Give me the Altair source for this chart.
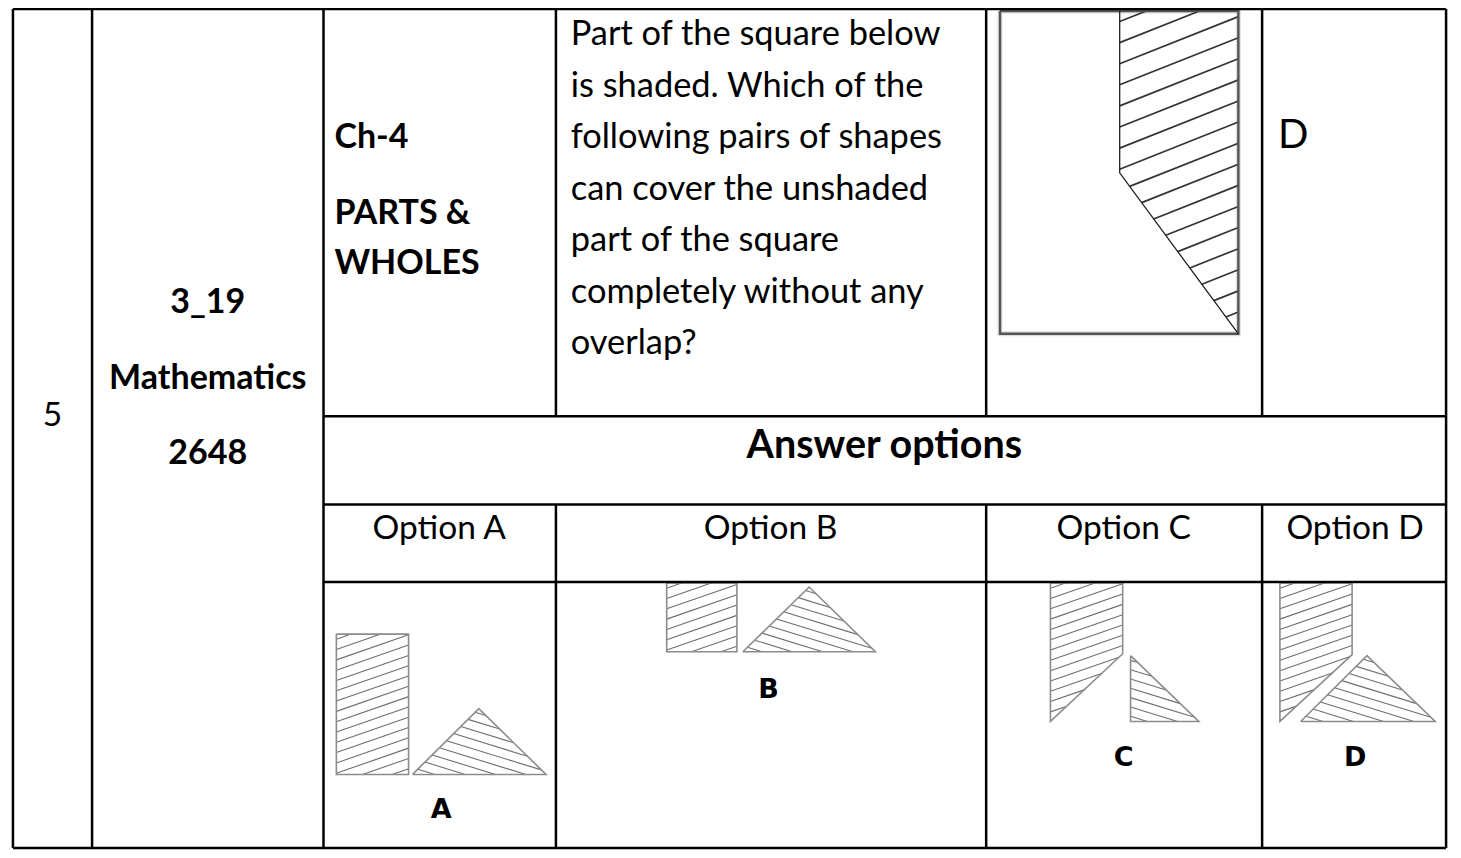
import altair as alt
import pandas as pd

# ---------------- reference frame (pixels of the 1461x858 picture) ----------------
FRAME_W, FRAME_H = 1461, 858

# table structure
col_edges = [5, 85, 319, 554, 989, 1268, 1454]
row_edges = [1, 416, 506, 585, 856]

# question text (regular, left aligned)
question_lines = [
    "Part of the square below",
    "is shaded. Which of the",
    "following pairs of shapes",
    "can cover the unshaded",
    "part of the square",
    "completely without any",
    "overlap?",
]
question_baselines = [38, 90.5, 143, 195.5, 248, 300.5, 353]

chapter_lines = ["Ch-4", "PARTS &", "WHOLES"]
chapter_baselines = [143, 220, 271]

id_lines = ["3_19", "Mathematics", "2648"]
id_baselines = [311, 388, 465]

option_titles = ["Option A", "Option B", "Option C", "Option D"]
option_centers = [436, 771, 1128, 1362]

fig_labels = ["A", "B", "C", "D"]
fig_label_x = [438, 769, 1128, 1362]
fig_label_y = [825, 703, 772, 772]

# shapes: vertex lists in the reference frame
shape_names = ["main_sq", "main_shade", "A_rect", "A_tri", "B_rect", "B_tri",
               "C_tall", "C_tri", "D_tall", "D_tri"]
shape_vertices = [
    [(1003, 3), (1244, 3), (1244, 332), (1003, 332)],
    [(1124, 3), (1244, 3), (1244, 332), (1124, 168)],
    [(332, 638), (405, 638), (405, 781), (332, 781)],
    [(409, 781), (476, 714), (544, 781)],
    [(666, 586), (737, 586), (737, 656), (666, 656)],
    [(743, 656), (810, 590), (877, 656)],
    [(1054, 586), (1127, 586), (1127, 658), (1054, 727)],
    [(1135, 660), (1135, 727), (1204, 727)],
    [(1286, 586), (1359, 586), (1359, 659), (1286, 727)],
    [(1307, 727), (1374, 660), (1443, 727)],
]
# hatch: (screen slope, vertical spacing) ; negative slope rises to the right
hatch_spec = {
    "main_shade": (-0.40, 21.5),
    "A_rect": (-0.35, 10.5), "A_tri": (0.31, 9.5),
    "B_rect": (-0.35, 10.5), "B_tri": (0.31, 9.5),
    "C_tall": (-0.35, 10.5), "C_tri": (0.31, 9.5),
    "D_tall": (-0.35, 10.5), "D_tri": (0.31, 9.5),
}

# ---------------- build tables ----------------
grid = []
for x in [col_edges[0], col_edges[1], col_edges[2], col_edges[-1]]:
    grid.append(dict(x=x, y=row_edges[0], x2=x, y2=row_edges[-1]))
for x in col_edges[3:6]:
    grid.append(dict(x=x, y=row_edges[0], x2=x, y2=row_edges[1]))
    grid.append(dict(x=x, y=row_edges[2], x2=x, y2=row_edges[-1]))
for y in [row_edges[0], row_edges[-1]]:
    grid.append(dict(x=col_edges[0], y=y, x2=col_edges[-1], y2=y))
for y in row_edges[1:4]:
    grid.append(dict(x=col_edges[2], y=y, x2=col_edges[-1], y2=y))
grid_df = pd.DataFrame(grid)

outline_rows = []
for name, verts in zip(shape_names, shape_vertices):
    if name == "main_shade":
        pts = [verts[0], verts[3], verts[2]]  # only inner boundary is drawn
    else:
        pts = verts + [verts[0]]
    for i, (px, py) in enumerate(pts):
        outline_rows.append(dict(sid=name, i=i, x=px, y=py,
                                 kind="main" if name.startswith("main") else "opt"))
outline_df = pd.DataFrame(outline_rows)


def hatch(verts, m, step):
    cs = [py - m * px for px, py in verts]
    lo, hi = min(cs), max(cs)
    segs = []
    c = lo + step * 0.5
    n = len(verts)
    while c < hi:
        pts = []
        for k in range(n):
            (x1, y1), (x2, y2) = verts[k], verts[(k + 1) % n]
            f1 = y1 - m * x1 - c
            f2 = y2 - m * x2 - c
            if f1 == f2:
                continue
            if f1 * f2 <= 0:
                t = f1 / (f1 - f2)
                pts.append((x1 + t * (x2 - x1), y1 + t * (y2 - y1)))
        if len(pts) >= 2:
            pts.sort()
            a, b = pts[0], pts[-1]
            if abs(b[0] - a[0]) > 0.5:
                segs.append((a, b))
        c += step
    return segs


hatch_rows = []
for name, verts in zip(shape_names, shape_vertices):
    if name not in hatch_spec:
        continue
    m, step = hatch_spec[name]
    for a, b in hatch(verts, m, step):
        hatch_rows.append(dict(sid=name, x=a[0], y=a[1], x2=b[0], y2=b[1],
                               kind="main" if name.startswith("main") else "opt"))
hatch_df = pd.DataFrame(hatch_rows)

reg_left = pd.DataFrame(dict(t=question_lines, x=[569] * len(question_lines),
                             y=question_baselines, s=[34.4] * len(question_lines)))
reg_left = pd.concat([reg_left, pd.DataFrame(dict(t=["D"], x=[1284], y=[142.5], s=[40]))])
reg_center = pd.DataFrame(dict(t=["5"] + option_titles, x=[45] + option_centers,
                               y=[426] + [541] * 4, s=[33.5] * 5))
bold_left = pd.DataFrame(dict(t=chapter_lines, x=[330] * 3, y=chapter_baselines, s=[34] * 3))
bold_center = pd.DataFrame(dict(t=id_lines + ["Answer options"], x=[202, 202, 202, 886],
                                y=id_baselines + [459], s=[34, 34, 34, 39.5]))
black_center = pd.DataFrame(dict(t=fig_labels, x=fig_label_x, y=fig_label_y, s=[27] * 4))

# ---------------- chart ----------------
xs = alt.Scale(domain=[0, FRAME_W], nice=False, zero=False)
ys = alt.Scale(domain=[0, FRAME_H], nice=False, zero=False, reverse=True)
X = alt.X("x:Q", scale=xs, axis=None)
Y = alt.Y("y:Q", scale=ys, axis=None)

grid_layer = alt.Chart(grid_df).mark_rule(color="black", strokeWidth=2.5).encode(
    x=X, y=Y, x2="x2:Q", y2="y2:Q")

opt_outline = alt.Chart(outline_df[outline_df["kind"] == "opt"]).mark_line(
    color="#8c8c8c", strokeWidth=1.6, strokeJoin="miter").encode(
    x=X, y=Y, detail="sid:N", order="i:Q")
main_sq_shadow = alt.Chart(outline_df[outline_df["sid"] == "main_sq"]).mark_line(
    color="#c8c8c8", strokeWidth=5, opacity=0.6).encode(x=X, y=Y, detail="sid:N", order="i:Q")
main_sq = alt.Chart(outline_df[outline_df["sid"] == "main_sq"]).mark_line(
    color="#555555", strokeWidth=2.4).encode(x=X, y=Y, detail="sid:N", order="i:Q")
main_shade = alt.Chart(outline_df[outline_df["sid"] == "main_shade"]).mark_line(
    color="#222222", strokeWidth=1.3).encode(x=X, y=Y, detail="sid:N", order="i:Q")

hatch_opt = alt.Chart(hatch_df[hatch_df["kind"] == "opt"]).mark_rule(
    color="#6e6e6e", strokeWidth=1.1).encode(x=X, y=Y, x2="x2:Q", y2="y2:Q")
hatch_main = alt.Chart(hatch_df[hatch_df["kind"] == "main"]).mark_rule(
    color="#333333", strokeWidth=1.7).encode(x=X, y=Y, x2="x2:Q", y2="y2:Q")


def text_layer(df, align, weight, font="Lato"):
    return alt.Chart(df).mark_text(align=align, baseline="alphabetic", font=font,
                                   fontWeight=weight, color="black").encode(
        x=X, y=Y, text="t:N", size=alt.Size("s:Q", scale=None, legend=None))


chart = alt.layer(
    main_sq_shadow, hatch_opt, hatch_main, opt_outline, main_sq, main_shade, grid_layer,
    text_layer(reg_left, "left", "normal"),
    text_layer(reg_center, "center", "normal"),
    text_layer(bold_left, "left", "bold"),
    text_layer(bold_center, "center", "bold"),
    text_layer(black_center, "center", "bold", font="DejaVu Sans"),
).properties(
    width=1445, height=842,
    autosize=alt.AutoSizeParams(type="none"),
    padding=0,
    background="white",
).configure_view(stroke=None)

chart.save("out.html", embed_options={"renderer": "svg", "actions": False})
